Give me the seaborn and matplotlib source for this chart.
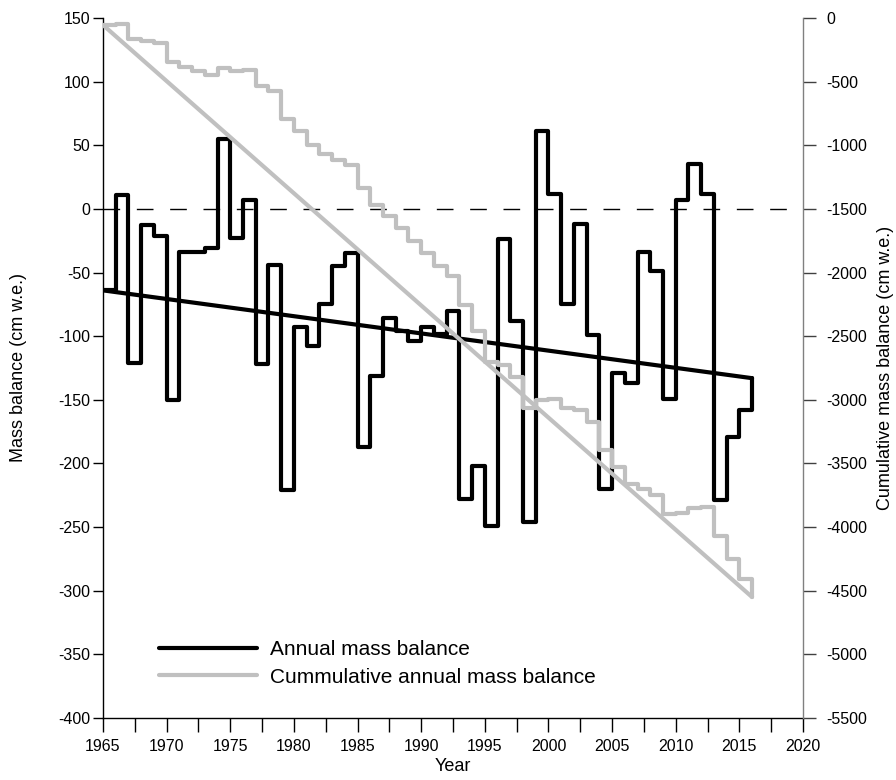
import matplotlib
matplotlib.use("Agg")
import matplotlib.pyplot as plt
import seaborn as sns
import pandas as pd
from matplotlib.ticker import MultipleLocator

# ---- data ----
years = list(range(1965, 2017))
annual = [-64, 11, -121, -13, -21, -150, -34, -34, -31, 55, -23, 7, -122, -44, -221,
          -93, -108, -75, -45, -35, -187, -131, -86, -96, -104, -93, -98, -80, -228,
          -202, -249, -24, -88, -246, 61, 12, -75, -12, -99, -220, -129, -137, -34,
          -49, -149, 7, 35, 12, -229, -179, -158, -133]
cumulative = [-55, -44, -165, -178, -199, -349, -383, -417, -448, -393, -416, -409,
              -531, -575, -796, -889, -997, -1072, -1117, -1152, -1339, -1470, -1556,
              -1652, -1756, -1849, -1947, -2027, -2255, -2457, -2706, -2730, -2818,
              -3064, -3003, -2991, -3066, -3078, -3177, -3397, -3526, -3663, -3697,
              -3746, -3895, -3888, -3853, -3841, -4070, -4249, -4407, -4550]
trend_years = [1965, 2016]
annual_trend = [-64, -133]
cumulative_trend = [-55, -4550]

left_ticks = list(range(-400, 151, 50))
right_ticks = list(range(-5500, 1, 500))

df = pd.DataFrame({"Year": years, "annual": annual, "cumulative": cumulative})
tr = pd.DataFrame({"Year": trend_years, "annual": annual_trend, "cumulative": cumulative_trend})

sns.set_style("ticks")
plt.rcParams["font.family"] = ["Liberation Sans", "DejaVu Sans"]
plt.rcParams["axes.unicode_minus"] = False
plt.rcParams["text.color"] = "black"
plt.rcParams["axes.labelcolor"] = "black"
plt.rcParams["xtick.color"] = "black"
plt.rcParams["ytick.color"] = "black"
plt.rcParams["xtick.labelcolor"] = "black"
plt.rcParams["ytick.labelcolor"] = "black"

BLACK = "#000000"
GRAY = "#c0c0c0"

fig = plt.figure(figsize=(8.96, 7.8), dpi=100)
ax = fig.add_axes([103 / 896, 62 / 780, 700 / 896, 700 / 780])

ax.axhline(0, color="black", lw=1.0, dashes=(12, 12), zorder=1)

sns.lineplot(data=df, x="Year", y="annual", ax=ax, color=BLACK, lw=3.0,
             drawstyle="steps-post", estimator=None, sort=False,
             solid_joinstyle="round", zorder=3)
sns.lineplot(data=tr, x="Year", y="annual", ax=ax, color=BLACK, lw=3.0,
             estimator=None, sort=False, zorder=3)

ax.set_xlim(1965, 2020)
ax.set_ylim(-400, 150)
ax.xaxis.set_major_locator(MultipleLocator(5))
ax.xaxis.set_minor_locator(MultipleLocator(2.5))
ax.set_yticks(left_ticks)
ax.set_yticklabels([str(v) for v in left_ticks])

ax2 = ax.twinx()
sns.lineplot(data=df, x="Year", y="cumulative", ax=ax2, color=GRAY, lw=3.0,
             drawstyle="steps-post", estimator=None, sort=False,
             solid_joinstyle="round")
sns.lineplot(data=tr, x="Year", y="cumulative", ax=ax2, color=GRAY, lw=3.0,
             estimator=None, sort=False)
ax2.set_ylim(-5500, 0)
ax2.set_yticks(right_ticks)
ax2.set_yticklabels([str(v) for v in right_ticks])

# spines
for s in ["top", "right"]:
    ax.spines[s].set_visible(False)
for s in ["top", "left", "bottom"]:
    ax2.spines[s].set_visible(False)
ax.spines["left"].set_color("black")
ax.spines["bottom"].set_color("black")
ax.spines["left"].set_linewidth(1.0)
ax.spines["bottom"].set_linewidth(1.0)
ax2.spines["right"].set_color("#808080")
ax2.spines["right"].set_linewidth(1.0)

ax.tick_params(axis="x", which="both", direction="out", length=10, width=1.0,
               color="black", labelsize=11.5, pad=5)
ax.tick_params(axis="y", direction="out", length=7, width=1.0, color="black",
               labelsize=11.5, pad=2)
ax2.tick_params(axis="y", direction="out", length=9, width=1.0, color="#404040",
                labelsize=11.5, pad=8)

ax.set_xlabel("Year", fontsize=13, labelpad=3)
ax.set_ylabel("Mass balance (cm w.e.)", fontsize=13)
ax2.set_ylabel("Cumulative mass balance (cm w.e.)", fontsize=13)
ax.yaxis.set_label_coords(-0.108, 0.5)
ax2.yaxis.set_label_coords(1.106, 0.5)

h1 = ax.get_lines()[1]
h2 = ax2.get_lines()[0]
leg = ax2.legend([h1, h2], ["Annual mass balance", "Cummulative annual mass balance"],
                 loc="upper left", bbox_to_anchor=(0.08, 0.111), frameon=False,
                 fontsize=15, handlelength=4.7, handletextpad=0.65,
                 labelspacing=0.4, borderpad=0, borderaxespad=0)

fig.savefig("out.png", dpi=100)
